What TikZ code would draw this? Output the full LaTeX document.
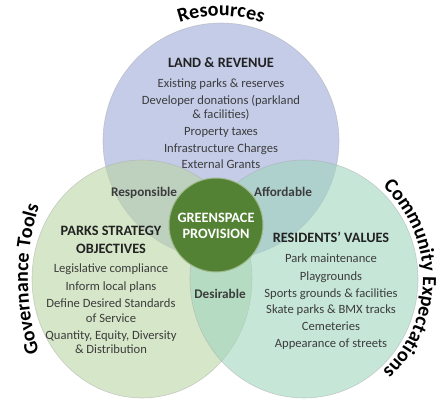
\documentclass[tikz,border=0pt]{standalone}
\usepackage{fontspec}
\setmainfont{Carlito}
\usetikzlibrary{decorations.text}
\definecolor{topc}{RGB}{157,170,217}
\definecolor{leftc}{RGB}{187,213,163}
\definecolor{rightc}{RGB}{160,213,190}
\definecolor{grn}{RGB}{84,130,53}
\definecolor{txtc}{RGB}{60,60,60}
\definecolor{ttlc}{RGB}{34,34,34}
\begin{document}
\begin{tikzpicture}[x=1pt,y=1pt,
  venn/.style={fill opacity=0.6, draw=black!35, draw opacity=0.5, line width=0.6pt},
  txt/.style={anchor=base, inner sep=0pt, text=txtc, font=\fontsize{12.6}{14}\selectfont},
  ttl/.style={anchor=base, inner sep=0pt, text=ttlc, font=\bfseries\fontsize{14.3}{16}\selectfont},
  lab/.style={anchor=base, inner sep=0pt, text=txtc, font=\bfseries\fontsize{13.2}{15}\selectfont},
  gtxt/.style={anchor=base, inner sep=0pt, text=white, font=\bfseries\fontsize{14.3}{16}\selectfont},
  arctext/.style={decorate, decoration={text along path, text align=center, text={|\bfseries\fontsize{20}{24}\selectfont|#1}}}
]
\useasboundingbox (0,0) rectangle (443,400);
% circle centres
\coordinate (tc) at (221,259);
\coordinate (lc) at (142,121);
\coordinate (rc) at (304,121);
% circles
\path[venn, fill=topc, draw] (tc) circle[radius=118];
\path[venn, fill=leftc, draw] (lc) ellipse[x radius=110, y radius=119];
\path[venn, fill=rightc, draw] (rc) ellipse[x radius=114, y radius=119];
\node[circle, minimum size=94pt, inner sep=0pt, fill=grn, draw=grn!55!white, line width=1pt] (gs) at (216,175) {};
% curved titles
\path[arctext={Resources}] (tc) ++(150:125) arc[start angle=150, end angle=30, radius=125];
\path[arctext={Governance Tools}] (lc) ++(240:114 and 170) arc[start angle=240, end angle=120, x radius=114, y radius=170];
\path[arctext={Community Expectations}] (rc) ++(75:119 and 123) arc[start angle=75, end angle=-75, x radius=119, y radius=123];
% centre
\node[gtxt] (gs1) at (216,178) {GREENSPACE};
\node[gtxt] (gs2) at (216,162) {PROVISION};
% overlap labels
\node[lab] (resp) at (144,204) {Responsible};
\node[lab] (aff) at (283,204) {Affordable};
\node[lab] (des) at (220,101.5) {Desirable};
% top block
\node[ttl] (toph) at (221,333) {LAND \& REVENUE};
\foreach \yy/\lbl [count=\i] in {313/Existing parks \& reserves, 296/Developer donations (parkland, 282/\& facilities), 265/Property taxes, 248/Infrastructure Charges, 232/External Grants}
  \node[txt] (top\i) at (221,\yy) {\lbl};
% left block
\node[ttl] (lefth1) at (111,165) {PARKS STRATEGY};
\node[ttl] (lefth2) at (111,147) {OBJECTIVES};
\foreach \yy/\lbl [count=\i] in {128/Legislative compliance, 110/Inform local plans, 93/Define Desired Standards, 78/of Service, 61/{Quantity, Equity, Diversity}, 47/\& Distribution}
  \node[txt] (left\i) at (111,\yy) {\lbl};
% right block
\node[ttl] (righth) at (331,158) {RESIDENTS’ VALUES};
\foreach \yy/\lbl [count=\i] in {138/Park maintenance, 120/Playgrounds, 103/Sports grounds \& facilities, 87/Skate parks \& BMX tracks, 70/Cemeteries, 53/Appearance of streets}
  \node[txt] (right\i) at (331,\yy) {\lbl};
\end{tikzpicture}
\end{document}
